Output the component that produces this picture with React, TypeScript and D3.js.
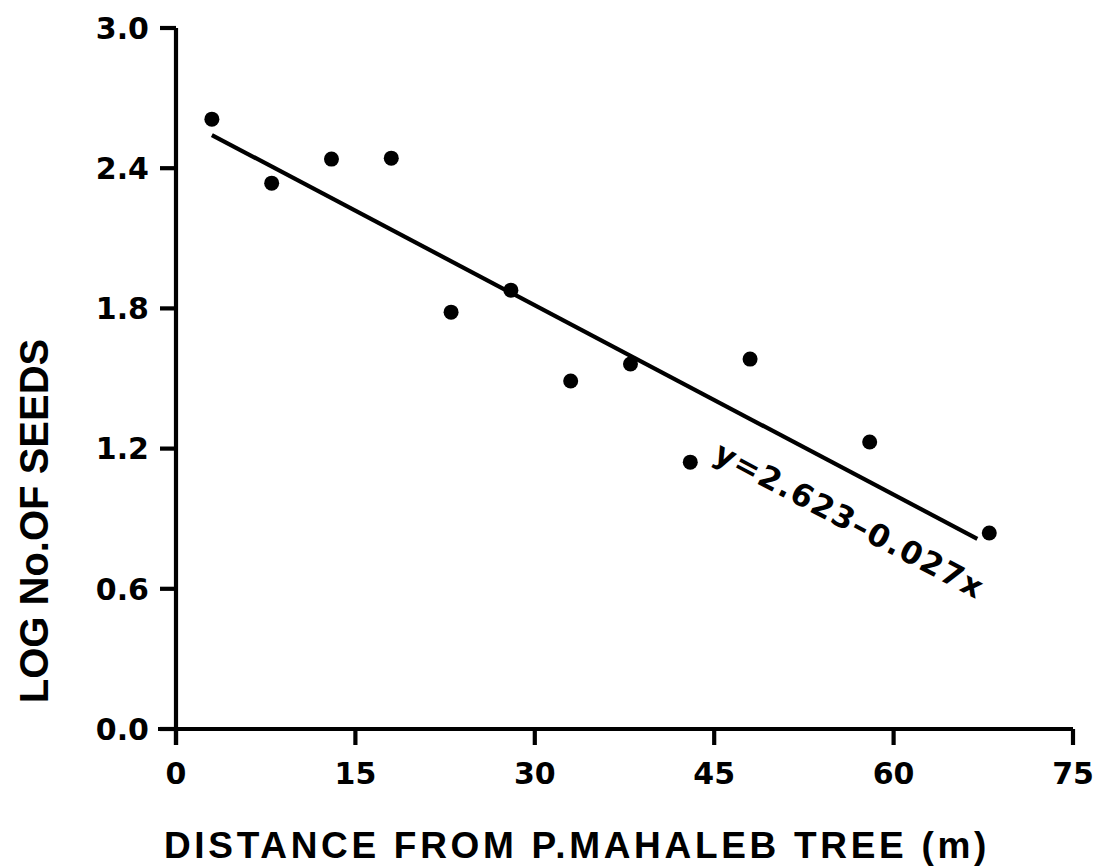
import React from "react";
import * as d3 from "d3";

const distances = [3, 8, 13, 18, 23, 28, 33, 38, 43, 48, 58, 68];
const logSeeds = [2.61, 2.336, 2.439, 2.443, 1.784, 1.878, 1.489, 1.562, 1.142, 1.583, 1.228, 0.839];
const xTicks = [0, 15, 30, 45, 60, 75];
const yTicks = [0, 0.6, 1.2, 1.8, 2.4, 3.0];
const intercept = 2.623;
const slope = -0.027;
const fitRange = [3, 67];
const equationLabel = "y=2.623\u20130.027x";
const xTitle = "DISTANCE FROM P.MAHALEB TREE (m)";
const yTitle = "LOG No.OF SEEDS";

const W = 1108;
const H = 867;
const ARIAL = "'Liberation Sans', Arial, Helvetica, sans-serif";
const DEJA = "'DejaVu Sans', 'Liberation Sans', sans-serif";

export default function App() {
  const x = d3.scaleLinear().domain([0, 75]).range([176, 1073]);
  const y = d3.scaleLinear().domain([0, 3]).range([729, 28]);
  const x0 = x(0);
  const y0 = y(0);
  const lineGen = d3
    .line<number>()
    .x((d) => x(d))
    .y((d) => y(intercept + slope * d));
  const angle =
    (Math.atan2(y(intercept + slope * 75) - y(intercept), x(75) - x(0)) * 180) / Math.PI;
  const labelX = 58.0;
  const lx = x(labelX);
  const ly = y(intercept + slope * labelX);
  const sw = 4.2;
  return (
    <svg
      width={W}
      height={H}
      style={{ position: "absolute", left: 0, top: 0, background: "#fff" }}
    >
      <rect x={0} y={0} width={W} height={H} fill="#fff" />
      {/* axes */}
      <line x1={x0 - 18} x2={x(75)} y1={y0} y2={y0} stroke="#000" strokeWidth={sw} />
      <line x1={x0} x2={x0} y1={y(3)} y2={y0 + 16} stroke="#000" strokeWidth={sw} />
      {yTicks.map((t) => (
        <g key={"y" + t}>
          <line x1={x0 - 16} x2={x0} y1={y(t)} y2={y(t)} stroke="#000" strokeWidth={sw} />
          <text
            x={149}
            y={y(t)}
            dy="0.36em"
            textAnchor="end"
            fontSize={30}
            fontWeight="bold"
            fontFamily={DEJA}
          >
            {t.toFixed(1)}
          </text>
        </g>
      ))}
      {xTicks.map((t) => (
        <g key={"x" + t}>
          <line x1={x(t)} x2={x(t)} y1={y0} y2={y0 + 16} stroke="#000" strokeWidth={sw} />
          <text
            x={x(t)}
            y={784}
            textAnchor="middle"
            fontSize={30}
            fontWeight="bold"
            fontFamily={DEJA}
          >
            {t}
          </text>
        </g>
      ))}
      {/* fit line */}
      <path d={lineGen(fitRange) || ""} stroke="#000" strokeWidth={sw} fill="none" />
      {/* points */}
      {distances.map((d, i) => (
        <circle key={i} cx={x(d)} cy={y(logSeeds[i])} r={7.5} fill="#000" />
      ))}
      {/* equation */}
      <g transform={`translate(${lx},${ly}) rotate(${angle})`}>
        <text
          x={0}
          y={54}
          textAnchor="middle"
          fontSize={31}
          fontWeight="bold"
          fontFamily={DEJA}
          letterSpacing={1.6}
        >
          {equationLabel}
        </text>
      </g>
      {/* titles */}
      <text
        x={577}
        y={858}
        textAnchor="middle"
        fontSize={37}
        fontWeight="bold"
        fontFamily={ARIAL}
        letterSpacing={3.7}
      >
        {xTitle}
      </text>
      <text
        transform={`translate(48,521) rotate(-90)`}
        textAnchor="middle"
        fontSize={40}
        fontWeight="bold"
        fontFamily={ARIAL}
      >
        {yTitle}
      </text>
    </svg>
  );
}
